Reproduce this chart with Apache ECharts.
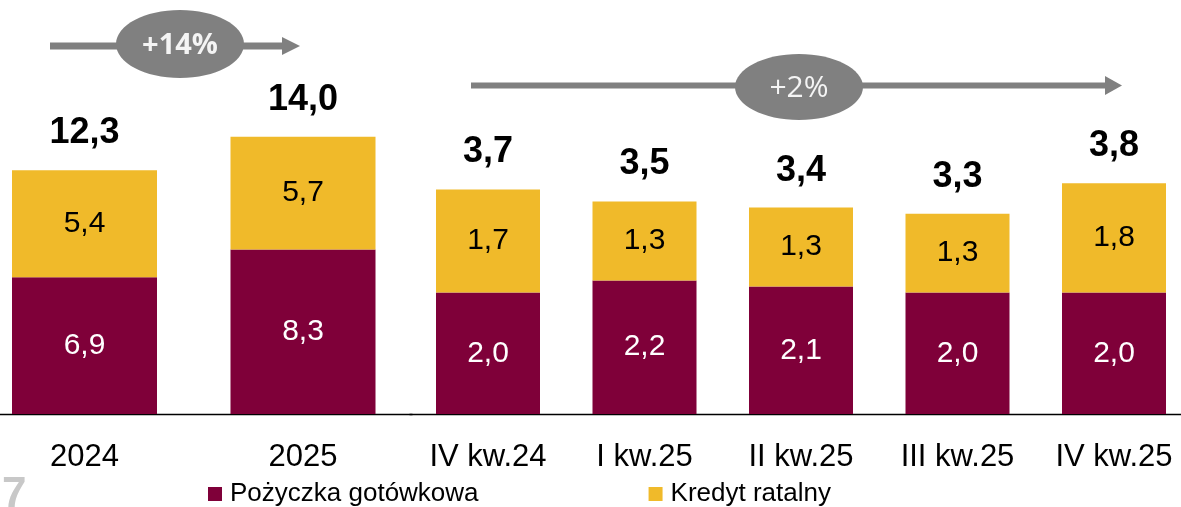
<!DOCTYPE html>
<html>
<head>
<meta charset="utf-8">
<script src="https://cdn.jsdelivr.net/npm/echarts@6/dist/echarts.min.js"></script>
<style>html,body{margin:0;padding:0;background:#fff;}#c{width:1181px;height:507px;}</style>
</head>
<body>
<div id="c"></div>
<script>
const annualCats = ['2024', '2025'];
const annualCash = [6.9, 8.3];
const annualInst = [5.4, 5.7];
const annualTotals = [12.3, 14.0];

const quarterCats = ['IV kw.24', 'I kw.25', 'II kw.25', 'III kw.25', 'IV kw.25'];
const quarterCash = [2.0, 2.2, 2.1, 2.0, 2.0];
const quarterInst = [1.7, 1.3, 1.3, 1.3, 1.8];
const quarterTotals = [3.7, 3.5, 3.4, 3.3, 3.8];

const seriesNames = ['Pożyczka gotówkowa', 'Kredyt ratalny'];
const growthLabels = ['+14%', '+2%'];

const MAROON = '#7F0039';
const YELLOW = '#F0BA2A';
const FONT = "'Liberation Sans', Arial, sans-serif";
const fmt = v => v.toFixed(1).replace('.', ',');

const chart = echarts.init(document.getElementById('c'));

function axisX(idx, data) {
  return {
    type: 'category', gridIndex: idx, data: data,
    axisLine: { show: true, lineStyle: { color: '#000', width: 1.3 } },
    axisTick: { show: false },
    axisLabel: { color: '#000', fontSize: 31, fontFamily: FONT, margin: 28 },
    splitLine: { show: false }
  };
}
function axisY(idx, max) {
  return { type: 'value', gridIndex: idx, min: 0, max: max, show: false, splitLine: { show: false } };
}
function stackBar(name, idx, stack, data, color, textColor, width) {
  return {
    name: name, type: 'bar', xAxisIndex: idx, yAxisIndex: idx, stack: stack,
    data: data, barWidth: width, itemStyle: { color: color },
    label: { show: true, position: 'inside', color: textColor, fontSize: 30, fontFamily: FONT,
      formatter: p => fmt(p.value) },
    emphasis: { disabled: true }, animation: false
  };
}
function totalBar(idx, data, width) {
  return {
    name: 'total' + idx, type: 'bar', xAxisIndex: idx, yAxisIndex: idx,
    data: data, barWidth: width, barGap: '-100%',
    itemStyle: { color: 'rgba(0,0,0,0)' },
    label: { show: true, position: 'top', distance: 19, color: '#000', fontSize: 36, fontWeight: 'bold',
      fontFamily: FONT, formatter: p => fmt(p.value) },
    emphasis: { disabled: true }, silent: true, animation: false, z: 1
  };
}

const option = {
  backgroundColor: '#fff',
  animation: false,
  grid: [
    { left: -24.75, width: 437, top: 0, height: 414, containLabel: false, outerBoundsMode: 'none' },
    { left: 409.75, width: 782.5, top: 0, height: 414, containLabel: false, outerBoundsMode: 'none' }
  ],
  xAxis: [axisX(0, annualCats), axisX(1, quarterCats)],
  yAxis: [axisY(0, 20.9), axisY(1, 6.82)],
  legend: {
    data: seriesNames, left: 208, top: 481, padding: 0, itemWidth: 14, itemHeight: 14, itemGap: 170,
    icon: 'rect', selectedMode: false,
    textStyle: { color: '#000', fontSize: 26, fontFamily: FONT, padding: [0, 0, 0, 3] }
  },
  series: [
    stackBar(seriesNames[0], 0, 'a', annualCash, MAROON, '#fff', 145),
    stackBar(seriesNames[1], 0, 'a', annualInst, YELLOW, '#000', 145),
    totalBar(0, annualTotals, 145),
    stackBar(seriesNames[0], 1, 'q', quarterCash, MAROON, '#fff', 104),
    stackBar(seriesNames[1], 1, 'q', quarterInst, YELLOW, '#000', 104),
    totalBar(1, quarterTotals, 104)
  ],
  graphic: [
    { type: 'line', shape: { x1: 50, y1: 46, x2: 284, y2: 46 }, style: { stroke: '#808080', lineWidth: 7 } },
    { type: 'polygon', shape: { points: [[282, 37], [300, 46], [282, 55]] }, style: { fill: '#808080' } },
    { type: 'ellipse', shape: { cx: 180, cy: 44, rx: 64, ry: 34 }, style: { fill: '#808080' } },
    { type: 'text', x: 180, y: 46, style: { text: growthLabels[0], fill: '#f4f4f4', fontSize: 29, fontWeight: 'bold',
      fontFamily: "'Open Sans', sans-serif", align: 'center', verticalAlign: 'middle' } },
    { type: 'line', shape: { x1: 471, y1: 85.5, x2: 1107, y2: 85.5 }, style: { stroke: '#808080', lineWidth: 6 } },
    { type: 'polygon', shape: { points: [[1105, 76], [1122, 85.5], [1105, 95]] }, style: { fill: '#808080' } },
    { type: 'ellipse', shape: { cx: 799, cy: 87, rx: 64, ry: 33 }, style: { fill: '#808080' } },
    { type: 'text', x: 799, y: 88, style: { text: growthLabels[1], fill: '#f4f4f4', fontSize: 30,
      fontFamily: "'Open Sans', sans-serif", align: 'center', verticalAlign: 'middle' } },
    { type: 'text', left: 2, top: 474, style: { text: '7', fill: '#c8c8c8', fontSize: 44, fontWeight: 'bold',
      fontFamily: FONT } }
  ]
};
chart.setOption(option);
</script>
</body>
</html>
